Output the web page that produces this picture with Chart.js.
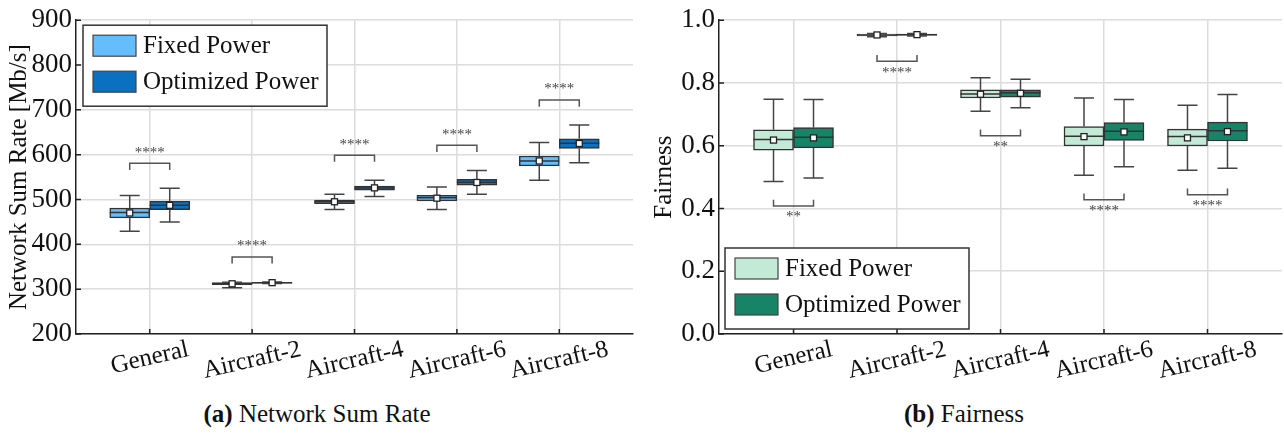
<!DOCTYPE html>
<html>
<head>
<meta charset="utf-8">
<script src="https://cdn.jsdelivr.net/npm/chart.js@4.4.1/dist/chart.umd.min.js"></script>
<style>
  body { margin: 0; background: #fff; }
  #wrap { position: relative; width: 1284px; height: 436px; }
  .panel { position: absolute; top: 0; height: 390px; }
  .cap { position: absolute; top: 401px; width: 400px; text-align: center;
         font: 25px "Liberation Serif", serif; color: #111; line-height: 25px; }
</style>
</head>
<body>
<div id="wrap">
  <div class="panel" style="left:0;width:645px"><canvas id="rate-canvas"></canvas></div>
  <div class="panel" style="left:645px;width:639px"><canvas id="fair-canvas"></canvas></div>
  <div class="cap" style="left:117px"><b>(a)</b> Network Sum Rate</div>
  <div class="cap" style="left:764px"><b>(b)</b> Fairness</div>
</div>
<script>
const categories = ['General', 'Aircraft-2', 'Aircraft-4', 'Aircraft-6', 'Aircraft-8'];

// network sum rate [Mb/s]
const rateFixedMin  = [429, 303, 478, 478, 543];
const rateFixedQ1   = [459, 310, 491, 497, 575];
const rateFixedMed  = [471, 312, 495, 504, 586];
const rateFixedQ3   = [481, 314.5, 499, 509.5, 597];
const rateFixedMax  = [509, 315.5, 512, 528, 627];
const rateFixedMean = [470, 312, 495, 503, 586];

const rateOptMin  = [450, 312.5, 507, 511.5, 582];
const rateOptQ1   = [477.5, 313.5, 521, 532, 614];
const rateOptMed  = [487, 314.3, 525.5, 538.5, 625.5];
const rateOptQ3   = [496.5, 315, 530, 545, 635.5];
const rateOptMax  = [525, 316, 543, 565, 666];
const rateOptMean = [487, 314.5, 526, 538, 625];

const rateSig = ['****', '****', '****', '****', '****'];

// fairness index
const fairFixedMin  = [0.486, 0.947, 0.710, 0.506, 0.522];
const fairFixedQ1   = [0.586, 0.950, 0.752, 0.599, 0.599];
const fairFixedMed  = [0.620, 0.953, 0.765, 0.630, 0.629];
const fairFixedQ3   = [0.651, 0.956, 0.778, 0.661, 0.653];
const fairFixedMax  = [0.748, 0.958, 0.817, 0.752, 0.729];
const fairFixedMean = [0.618, 0.953, 0.764, 0.629, 0.625];

const fairOptMin  = [0.497, 0.950, 0.721, 0.533, 0.528];
const fairOptQ1   = [0.593, 0.952, 0.755, 0.617, 0.615];
const fairOptMed  = [0.627, 0.954, 0.769, 0.646, 0.648];
const fairOptQ3   = [0.658, 0.956, 0.778, 0.674, 0.675];
const fairOptMax  = [0.747, 0.958, 0.812, 0.747, 0.763];
const fairOptMean = [0.625, 0.954, 0.767, 0.644, 0.645];

const fairSig = ['**', '****', '**', '****', '****'];

const rateTicks = [200, 300, 400, 500, 600, 700, 800, 900];
const fairTicks = [0, 0.2, 0.4, 0.6, 0.8, 1.0];

const SERIF = '"Liberation Serif", serif';

function boxDataset(label, color, q1, q3, lo, hi, med, mean) {
    return {
        label,
        data: categories.map((c, i) => ({x: i + 1, y: [q1[i], q3[i]]})),
        backgroundColor: color,
        borderColor: '#333',
        borderWidth: 1.5,
        borderSkipped: false,
        barThickness: 40,
        lo, hi, med, mean,
    };
}

// whiskers, medians, means, significance brackets, legend, category labels
const boxExtras = {
    id: 'boxExtras',
    afterDatasetsDraw(chart, args, opts) {
        const {ctx, scales: {x, y}, chartArea: area} = chart;
        const metas = chart.data.datasets.map((ds, i) => chart.getDatasetMeta(i));

        ctx.save();
        chart.data.datasets.forEach((ds, di) => {
            metas[di].data.forEach((bar, j) => {
                const cx = bar.x, half = bar.width / 2, cap = bar.width / 4;
                const yTop = y.getPixelForValue(ds.data[j].y[1]);
                const yBot = y.getPixelForValue(ds.data[j].y[0]);
                const yHi = y.getPixelForValue(ds.hi[j]);
                const yLo = y.getPixelForValue(ds.lo[j]);
                ctx.strokeStyle = '#444';
                ctx.lineWidth = 1.5;
                ctx.beginPath();
                ctx.moveTo(cx, yTop); ctx.lineTo(cx, yHi);
                ctx.moveTo(cx - cap, yHi); ctx.lineTo(cx + cap, yHi);
                ctx.moveTo(cx, yBot); ctx.lineTo(cx, yLo);
                ctx.moveTo(cx - cap, yLo); ctx.lineTo(cx + cap, yLo);
                ctx.stroke();

                const yMed = y.getPixelForValue(ds.med[j]);
                ctx.strokeStyle = '#333';
                ctx.beginPath();
                ctx.moveTo(cx - half, yMed); ctx.lineTo(cx + half, yMed);
                ctx.stroke();

                const yMean = y.getPixelForValue(ds.mean[j]);
                ctx.fillStyle = '#fff';
                ctx.strokeStyle = '#222';
                ctx.lineWidth = 1.3;
                ctx.fillRect(cx - 3, yMean - 3, 6, 6);
                ctx.strokeRect(cx - 3, yMean - 3, 6, 6);
            });
        });

        // significance brackets between the two boxes of a group
        const [fixed, opt] = chart.data.datasets;
        ctx.strokeStyle = '#555';
        ctx.lineWidth = 1.5;
        ctx.fillStyle = '#444';
        ctx.font = '15px ' + SERIF;
        ctx.textAlign = 'center';
        opts.sig.forEach((txt, j) => {
            const x1 = metas[0].data[j].x, x2 = metas[1].data[j].x;
            let level, legEnd, textY;
            if (opts.above) {
                const top = Math.max(fixed.hi[j], opt.hi[j]) + opts.gap;
                level = y.getPixelForValue(top);
                legEnd = y.getPixelForValue(top - opts.leg);
                textY = level - 3;
                ctx.textBaseline = 'bottom';
            } else {
                const bot = Math.min(fixed.lo[j], opt.lo[j]) - opts.gap;
                level = y.getPixelForValue(bot);
                legEnd = y.getPixelForValue(bot + opts.leg);
                textY = level + 4;
                ctx.textBaseline = 'top';
            }
            ctx.beginPath();
            ctx.moveTo(x1, legEnd); ctx.lineTo(x1, level);
            ctx.lineTo(x2, level); ctx.lineTo(x2, legEnd);
            ctx.stroke();
            ctx.fillText(txt, (x1 + x2) / 2, textY);
        });

        // inward tick marks
        ctx.strokeStyle = '#222';
        ctx.lineWidth = 1.5;
        ctx.beginPath();
        y.ticks.forEach(t => {
            const py = y.getPixelForValue(t.value);
            ctx.moveTo(area.left, py); ctx.lineTo(area.left + 5, py);
        });
        x.ticks.forEach(t => {
            const px = x.getPixelForValue(t.value);
            ctx.moveTo(px, area.bottom); ctx.lineTo(px, area.bottom - 5);
        });
        ctx.stroke();

        // legend box
        const lx = area.left + opts.legendX, ly = opts.legendTop ? area.top + 5 : area.bottom - 5 - 81;
        ctx.fillStyle = '#fff';
        ctx.fillRect(lx, ly, 244, 81);
        ctx.strokeStyle = '#333';
        ctx.lineWidth = 1.5;
        ctx.strokeRect(lx, ly, 244, 81);
        ctx.font = '25px ' + SERIF;
        ctx.textAlign = 'left';
        ctx.textBaseline = 'middle';
        chart.data.datasets.forEach((ds, i) => {
            const sy = ly + 10 + i * 36;
            ctx.fillStyle = ds.backgroundColor;
            ctx.fillRect(lx + 10, sy, 43, 21);
            ctx.strokeStyle = '#444';
            ctx.lineWidth = 1.2;
            ctx.strokeRect(lx + 10, sy, 43, 21);
            ctx.fillStyle = '#111';
            ctx.fillText(ds.label, lx + 60, sy + 11);
        });

        // slanted category labels
        const ang = 13 * Math.PI / 180;
        ctx.font = '25px ' + SERIF;
        ctx.textAlign = 'center';
        ctx.textBaseline = 'middle';
        ctx.fillStyle = '#111';
        categories.forEach((c, i) => {
            const px = x.getPixelForValue(i + 1);
            const w = ctx.measureText(c).width;
            const cy = area.bottom + 4 + (w * Math.sin(ang) + 23 * Math.cos(ang)) / 2;
            ctx.save();
            ctx.translate(px, cy);
            ctx.rotate(-ang);
            ctx.fillText(c, 0, 0);
            ctx.restore();
        });
        ctx.restore();
    }
};

function makeBoxChart(canvas, cfg) {
    return new Chart(canvas, {
        type: 'bar',
        data: {datasets: cfg.datasets},
        options: {
            responsive: true,
            maintainAspectRatio: false,
            animation: false,
            layout: {padding: {top: 12, right: cfg.padRight, left: 0, bottom: 0}},
            plugins: {
                legend: {display: false},
                tooltip: {enabled: false},
                boxExtras: cfg.extras,
            },
            scales: {
                x: {
                    type: 'linear',
                    min: 0.28, max: 5.72,
                    offset: false,
                    afterBuildTicks: s => { s.ticks = categories.map((c, i) => ({value: i + 1})); },
                    afterFit: s => { s.height = 56; },
                    ticks: {display: false},
                    grid: {color: '#dcdcdc', lineWidth: 1.5, drawTicks: false, offset: false},
                    border: {color: '#222', width: 1.5},
                },
                y: {
                    min: cfg.yTicks[0], max: cfg.yTicks[cfg.yTicks.length - 1],
                    afterBuildTicks: s => { s.ticks = cfg.yTicks.map(v => ({value: v})); },
                    afterFit: s => { s.width = cfg.yWidth; },
                    ticks: {
                        padding: 4,
                        color: '#111',
                        font: {family: SERIF, size: 27},
                        callback: cfg.tickFmt,
                    },
                    title: {display: true, text: cfg.yTitle, color: '#111', font: {family: SERIF, size: 25}},
                    grid: {color: '#dcdcdc', lineWidth: 1.5, drawTicks: false},
                    border: {color: '#222', width: 1.5},
                },
            },
        },
        plugins: [boxExtras],
    });
}

makeBoxChart(document.querySelector('#rate-canvas'), {
    datasets: [
        boxDataset('Fixed Power', '#66bdfb', rateFixedQ1, rateFixedQ3, rateFixedMin, rateFixedMax, rateFixedMed, rateFixedMean),
        boxDataset('Optimized Power', '#0a70bf', rateOptQ1, rateOptQ3, rateOptMin, rateOptMax, rateOptMed, rateOptMean),
    ],
    yTicks: rateTicks,
    yTitle: 'Network Sum Rate [Mb/s]',
    yWidth: 76,
    padRight: 12,
    tickFmt: v => v,
    extras: {sig: rateSig, above: true, gap: 56, leg: 15, legendX: 7, legendTop: true},
});

makeBoxChart(document.querySelector('#fair-canvas'), {
    datasets: [
        boxDataset('Fixed Power', '#c2ead7', fairFixedQ1, fairFixedQ3, fairFixedMin, fairFixedMax, fairFixedMed, fairFixedMean),
        boxDataset('Optimized Power', '#188467', fairOptQ1, fairOptQ3, fairOptMin, fairOptMax, fairOptMed, fairOptMean),
    ],
    yTicks: fairTicks,
    yTitle: 'Fairness',
    yWidth: 74,
    padRight: 2,
    tickFmt: v => v.toFixed(1),
    extras: {sig: fairSig, above: false, gap: 0.078, leg: 0.02, legendX: 6, legendTop: false},
});
</script>
</body>
</html>
